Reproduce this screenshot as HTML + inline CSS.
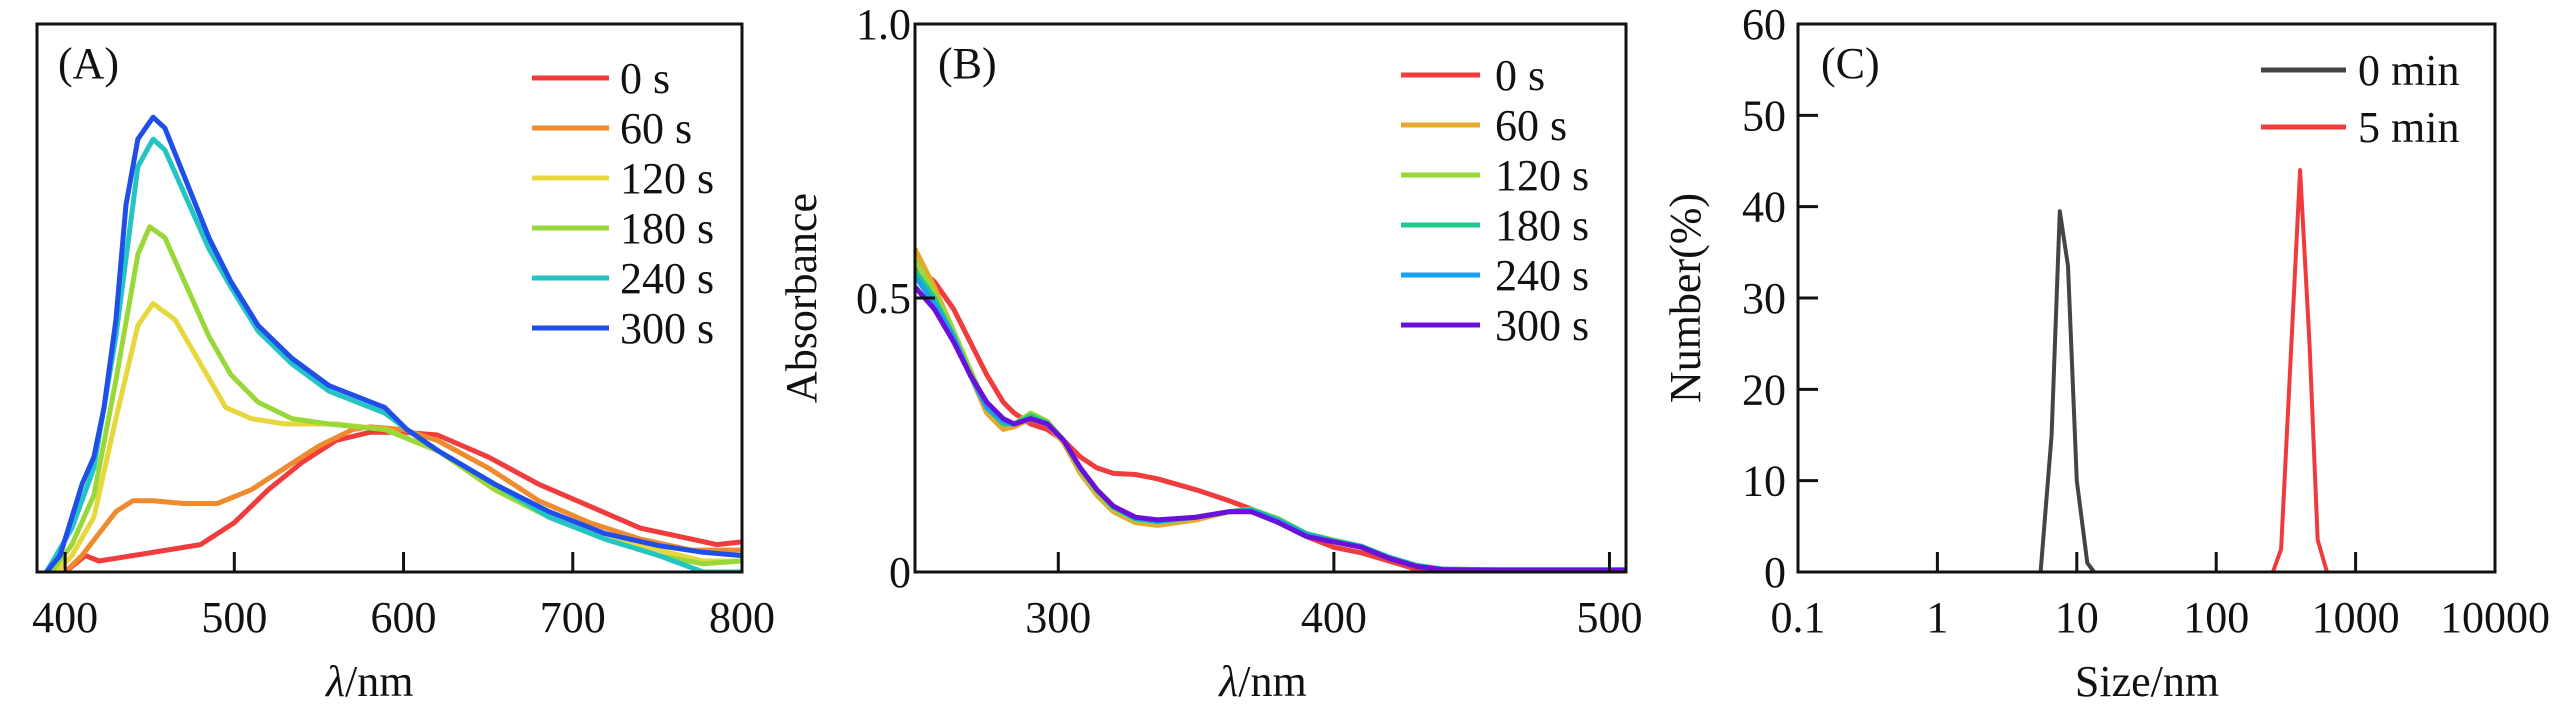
<!DOCTYPE html>
<html><head><meta charset="utf-8"><style>
body{margin:0;background:#fff;}
svg{display:block;font-family:"Liberation Serif",serif;}
</style></head><body>
<svg id="fig" width="2567" height="709" xmlns="http://www.w3.org/2000/svg"></svg>
<script>
// ---------- Panel A data ----------
const aLabels=["0 s","60 s","120 s","180 s","240 s","300 s"];
const aColors=["#f03c3c","#f08a2e","#e6d83c","#9ad83a","#22c4c4","#1f4fe8"];
const aXTicks=[400,500,600,700,800];
const aX0=[400,412,420,440,460,480,500,520,540,560,580,600,620,650,680,710,740,770,785,800];
const aY0=[0,0.03,0.02,0.03,0.04,0.05,0.09,0.15,0.20,0.24,0.255,0.255,0.25,0.21,0.16,0.12,0.08,0.06,0.05,0.055];
const aX60=[400,410,420,430,440,452,470,490,510,530,550,570,580,600,620,650,680,710,740,770,800];
const aY60=[0,0.03,0.07,0.11,0.13,0.13,0.125,0.125,0.15,0.19,0.23,0.26,0.265,0.26,0.24,0.19,0.13,0.09,0.06,0.04,0.04];
const aX120=[395,404,417,430,443,452,465,480,495,510,530,560,590,621,654,686,719,751,777,800];
const aY120=[0,0.03,0.10,0.28,0.45,0.49,0.46,0.38,0.30,0.28,0.27,0.27,0.26,0.22,0.15,0.10,0.06,0.04,0.02,0.02];
const aX180=[392,404,417,430,443,450,459,472,485,498,514,534,556,589,621,654,686,719,751,777,800];
const aY180=[0,0.05,0.14,0.35,0.58,0.63,0.61,0.52,0.43,0.36,0.31,0.28,0.27,0.26,0.22,0.15,0.10,0.06,0.03,0.015,0.02];
const aX240=[389,404,417,430,443,452,459,472,485,498,514,534,556,589,602,621,654,686,719,751,777,800];
const aY240=[0,0.08,0.19,0.43,0.74,0.79,0.77,0.68,0.59,0.52,0.44,0.38,0.33,0.29,0.26,0.22,0.16,0.10,0.06,0.03,0,0];
const aX300=[389,397,404,410,417,423,430,436,443,452,459,472,485,498,514,534,556,589,602,621,654,686,719,751,777,800];
const aY300=[0,0.03,0.10,0.16,0.21,0.30,0.46,0.67,0.79,0.83,0.81,0.71,0.61,0.53,0.45,0.39,0.34,0.30,0.26,0.22,0.16,0.11,0.07,0.048,0.036,0.03];
// ---------- Panel B data ----------
const bLabels=["0 s","60 s","120 s","180 s","240 s","300 s"];
const bColors=["#f03c3c","#e6a82e","#9ad83a","#1ec98a","#1aa0f0","#6a10d8"];
const bXTicks=[300,400,500];
const bYTicks=[0,0.5,1.0];
const bYTickLabels=["0","0.5","1.0"];
const bX=[248,255,262,268,274,280,284,290,296,302,308,314,320,328,336,350,362,370,380,390,400,410,420,430,440,460,506];
const bY0=[0.56,0.53,0.48,0.42,0.36,0.31,0.29,0.27,0.26,0.24,0.21,0.19,0.18,0.178,0.17,0.15,0.13,0.115,0.09,0.065,0.045,0.035,0.02,0.005,0.003,0.003,0.003];
const bY60=[0.59,0.52,0.44,0.36,0.29,0.26,0.265,0.28,0.27,0.235,0.18,0.14,0.11,0.09,0.085,0.095,0.11,0.115,0.095,0.07,0.058,0.047,0.027,0.012,0.005,0.004,0.004];
const bY120=[0.57,0.51,0.44,0.37,0.30,0.27,0.27,0.29,0.275,0.24,0.185,0.145,0.115,0.095,0.09,0.10,0.11,0.115,0.097,0.07,0.058,0.047,0.027,0.012,0.005,0.004,0.004];
const bY180=[0.55,0.50,0.43,0.36,0.30,0.27,0.27,0.285,0.272,0.24,0.19,0.15,0.118,0.097,0.092,0.10,0.11,0.114,0.095,0.07,0.057,0.047,0.027,0.012,0.005,0.004,0.004];
const bY240=[0.54,0.49,0.43,0.36,0.30,0.275,0.27,0.28,0.27,0.24,0.19,0.15,0.12,0.098,0.093,0.10,0.11,0.112,0.093,0.068,0.056,0.046,0.026,0.011,0.005,0.004,0.004];
const bY300=[0.52,0.48,0.42,0.36,0.31,0.28,0.27,0.28,0.27,0.24,0.19,0.15,0.12,0.10,0.095,0.10,0.11,0.11,0.09,0.065,0.055,0.045,0.025,0.01,0.004,0.003,0.003];
// ---------- Panel C data ----------
const cLabels=["0 min","5 min"];
const cColors=["#444444","#ef3b3b"];
const cXTicks=[0.1,1,10,100,1000,10000];
const cXTickLabels=["0.1","1","10","100","1000","10000"];
const cYTicks=[0,10,20,30,40,50,60];
const cX0=[5.5,6.6,7.55,8.65,10,11.9,13.3];
const cY0=[0,15,39.5,33.5,10,1,0];
const cX5=[255,292,400,467,535,624];
const cY5=[0,2.5,44,25,3.5,0];

const NS="http://www.w3.org/2000/svg";
const svg=document.getElementById('fig');
const FS=44;
function mk(tag,attrs,parent){const e=document.createElementNS(NS,tag);for(const k in attrs)e.setAttribute(k,attrs[k]);(parent||svg).appendChild(e);return e;}
function txt(s,x,y,anchor,parent,size){const t=mk('text',{x:x,y:y,'text-anchor':anchor||'middle','font-size':size||FS,fill:'#111'},parent);t.textContent=s;return t;}

function panel(name){
  const g=mk('g',{});
  
  
  return g;
}
function frame(g,L,R,T,B){
  const r=mk('rect',{x:L,y:T,width:R-L,height:B-T,fill:'none',stroke:'#111','stroke-width':3},g);
  
  
}
function line(g,xs,ys,X,Y,color,name,w){
  let d='';
  for(let i=0;i<xs.length;i++){d+=(i?'L':'M')+X(xs[i]).toFixed(1)+','+Y(ys[i]).toFixed(1);}
  const p=mk('path',{d:d,fill:'none',stroke:color,'stroke-width':w||5,'stroke-linejoin':'round'},g);
  
  
}
function legend(g,labels,colors,x1,x2,tx,y0,dy,prefix){
  labels.forEach((lab,i)=>{
    const y=y0+i*dy;
    const e=mk('g',{},g);
    
    
    mk('line',{x1:x1,x2:x2,y1:y,y2:y,stroke:colors[i],'stroke-width':5},e);
    txt(lab,tx,y+15,'start',e);
  });
}

// ----- Panel A -----
(function(){
  const L=37,R=742,T=24,B=572,xmin=383.4,xmax=800;
  const X=v=>L+(v-xmin)/(xmax-xmin)*(R-L);
  const Y=v=>B-Math.max(0,v)*(B-T);
  const g=panel('panel-a');
  const cp=mk('clipPath',{id:'ca'},g);mk('rect',{x:L,y:T,width:R-L,height:B-T},cp);
  const lg=mk('g',{'clip-path':'url(#ca)'},g);
  const xsA=[aX0,aX60,aX120,aX180,aX240,aX300],ysA=[aY0,aY60,aY120,aY180,aY240,aY300];
  xsA.forEach((xs,i)=>line(lg,xs,ysA[i],X,Y,aColors[i],'series-a-'+aLabels[i].replace(' ','')));
  frame(g,L,R,T,B);
  aXTicks.forEach(t=>{mk('line',{x1:X(t),x2:X(t),y1:B,y2:B-20,stroke:'#111','stroke-width':3},g);const l=txt(String(t),X(t),632,'middle',g);});
  const xl=txt('',X(580),696,'middle',g);xl.innerHTML='<tspan font-style="italic">λ</tspan>/nm';
  
  const pl=txt('(A)',58,78,'start',g);
  legend(g,aLabels,aColors,532,609,620,78,50,'a');
})();

// ----- Panel B -----
(function(){
  const L=915,R=1626,T=24,B=572,xmin=248,xmax=506;
  const X=v=>L+(v-xmin)/(xmax-xmin)*(R-L);
  const Y=v=>B-Math.max(0,v)*(B-T);
  const g=panel('panel-b');
  const ysB=[bY0,bY60,bY120,bY180,bY240,bY300];
  ysB.forEach((ys,i)=>line(g,bX,ys,X,Y,bColors[i],'series-b-'+bLabels[i].replace(' ','')));
  frame(g,L,R,T,B);
  bXTicks.forEach(t=>{if(t<xmax){mk('line',{x1:X(t),x2:X(t),y1:B,y2:B-20,stroke:'#111','stroke-width':3},g);}const l=txt(String(t),X(t),632,'middle',g);});
  bYTicks.forEach((t,i)=>{if(t>0&&t<1)mk('line',{x1:L,x2:L+20,y1:Y(t),y2:Y(t),stroke:'#111','stroke-width':3},g);const l=txt(bYTickLabels[i],L-4,Y(t)+15,'end',g);});
  const xl=txt('',1263,696,'middle',g);xl.innerHTML='<tspan font-style="italic">λ</tspan>/nm';
  
  const yl=txt('Absorbance',0,0,'middle',g);yl.setAttribute('transform','translate(816,298) rotate(-90)');
  
  const pl=txt('(B)',938,78,'start',g);
  legend(g,bLabels,bColors,1401,1480,1495,75,50,'b');
})();

// ----- Panel C -----
(function(){
  const L=1798,R=2495,T=24,B=572,lmin=-1,lmax=4,ymax=60;
  const X=v=>L+(Math.log10(v)-lmin)/(lmax-lmin)*(R-L);
  const Y=v=>B-v/ymax*(B-T);
  const g=panel('panel-c');
  line(g,cX0,cY0,X,Y,cColors[0],'series-c-0min',4);
  line(g,cX5,cY5,X,Y,cColors[1],'series-c-5min',4);
  frame(g,L,R,T,B);
  cXTicks.forEach((t,i)=>{if(i>0&&i<cXTicks.length-1)mk('line',{x1:X(t),x2:X(t),y1:B,y2:B-20,stroke:'#111','stroke-width':3},g);const l=txt(cXTickLabels[i],X(t),632,'middle',g);});
  cYTicks.forEach(t=>{if(t>0&&t<60)mk('line',{x1:L,x2:L+20,y1:Y(t),y2:Y(t),stroke:'#111','stroke-width':3},g);const l=txt(String(t),L-12,Y(t)+15,'end',g);});
  const xl=txt('Size/nm',2147,696,'middle',g);
  const yl=txt('Number(%)',0,0,'middle',g);yl.setAttribute('transform','translate(1700,298) rotate(-90)');
  
  const pl=txt('(C)',1821,78,'start',g);
  legend(g,cLabels,cColors,2261,2346,2358,70,57,'c');
})();
</script>
</body></html>
